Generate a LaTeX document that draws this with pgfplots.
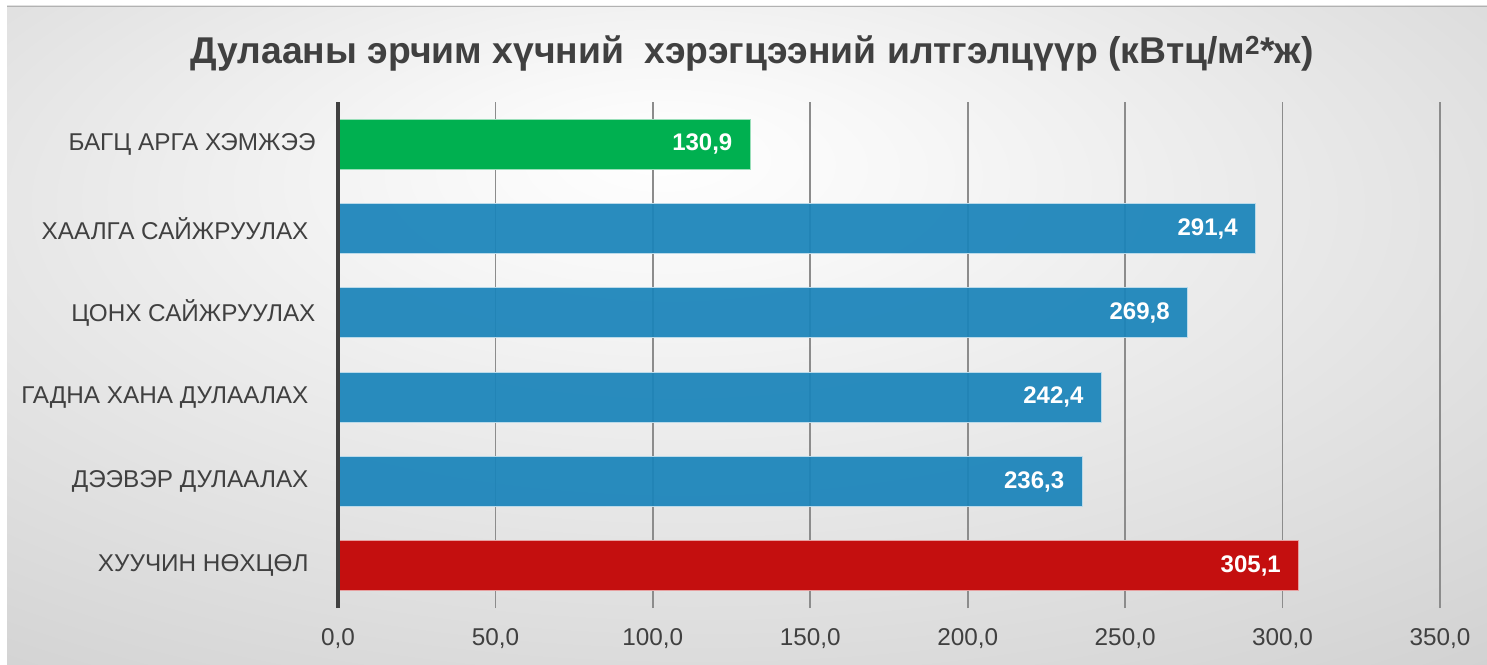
\documentclass[border=0pt]{standalone}
\usepackage{pgfplots}
\pgfplotsset{compat=1.18}
\usepackage{fontspec}
\setmainfont{Liberation Sans}
\definecolor{txt}{HTML}{404040}
\definecolor{cgreen}{HTML}{00B050}
\definecolor{cblue}{HTML}{1A84BA}
\definecolor{cred}{HTML}{C40F0F}
\definecolor{bgmid}{HTML}{C8C8C8}
\definecolor{bgouter}{HTML}{BBBBBB}
\pgfdeclareradialshading{bgshade}{\pgfpoint{-3bp}{14bp}}{color(0bp)=(white); color(8bp)=(white!97!black); color(50bp)=(bgmid); color(75bp)=(bgouter)}
\newcommand{\tsp}{\rule{7pt}{0pt}}
\begin{document}
\begin{tikzpicture}[x=1pt,y=1pt]
\useasboundingbox (0,0) rectangle (1487,664);
\fill[white] (0,0) rectangle (1487,664);
\shade[shading=bgshade] (7,0) rectangle (1487,658);
\draw[black!30, line width=1.5pt] (7,657.5) -- (1487,657.5);
\node[font=\fontsize{37.3}{42}\selectfont\bfseries, text=txt, anchor=base] at (752,600) {Дулааны эрчим хүчний \ хэрэгцээний илтгэлцүүр (кВтц/м\textsuperscript{2}*ж)};
\begin{axis}[
  at={(338pt,56pt)}, anchor=south west,
  scale only axis, width=1102pt, height=506pt,
  xmin=0, xmax=350, ymin=-0.5, ymax=5.5,
  xbar, bar width=50pt,
  axis line style={draw=none},
  xtick={0,50,...,350},
  xmajorgrids, grid style={color=black!45, line width=1.6pt},
  major tick length=0pt,
  ytick={0,1,2,3,4,5},
  yticklabels={ХУУЧИН НӨХЦӨЛ\tsp, ДЭЭВЭР ДУЛААЛАХ\tsp, ГАДНА ХАНА ДУЛААЛАХ\tsp, ЦОНХ САЙЖРУУЛАХ, ХААЛГА САЙЖРУУЛАХ\tsp, БАГЦ АРГА ХЭМЖЭЭ},
  yticklabel style={font=\fontsize{24.3}{27}\selectfont, text=txt, xshift=-19pt},
  xticklabel style={font=\fontsize{24.3}{27}\selectfont, text=txt, yshift=-17pt,
    /pgf/number format/.cd, fixed, fixed zerofill, precision=1, use comma, assume math mode=true},
  nodes near coords,
  nodes near coords style={font=\fontsize{24}{27}\selectfont\bfseries, text=white, anchor=east, xshift=-14pt,
    /pgf/number format/.cd, fixed, fixed zerofill, precision=1, use comma, assume math mode=true},
  point meta=x,
  clip=false,
]
\addplot[bar shift=0pt, fill=cblue, fill opacity=0.93, draw=white!70!cblue, line width=1pt, text opacity=1] coordinates {(236.3,1) (242.4,2) (269.8,3) (291.4,4)};
\addplot[bar shift=0pt, fill=cgreen, draw=white!60!cgreen, line width=1pt] coordinates {(130.9,5)};
\addplot[bar shift=0pt, fill=cred, draw=white!60!cred, line width=1pt] coordinates {(305.1,0)};
\draw[txt, line width=4pt] (axis cs:0,-0.5) -- (axis cs:0,5.5);
\end{axis}
\end{tikzpicture}
\end{document}
